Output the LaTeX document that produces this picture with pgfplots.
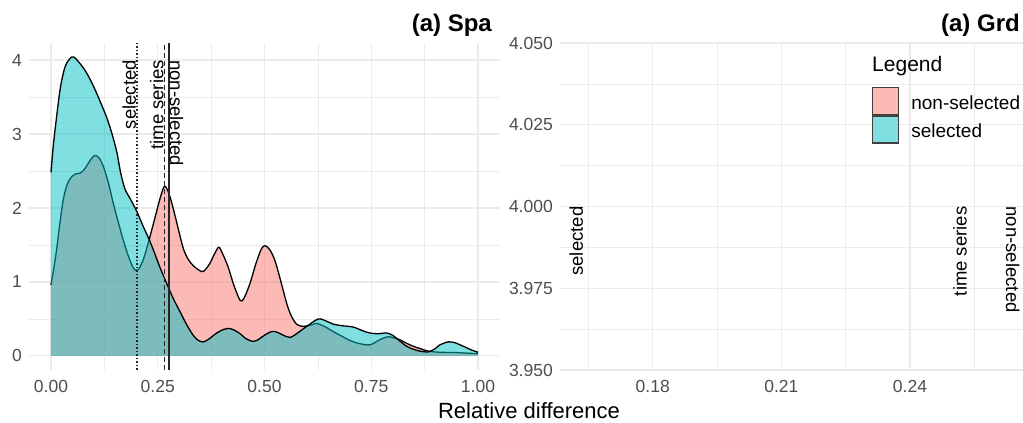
\documentclass[border=0pt]{standalone}
\usepackage{pgfplots}
\pgfplotsset{compat=1.18}
\usepackage{pgfplotstable}
\usepackage{fontspec}
\setmainfont{Liberation Sans}
\definecolor{pinkc}{HTML}{F8766D}
\definecolor{cyanc}{HTML}{00BFC4}
\definecolor{pinkkey}{HTML}{FBBAB6}
\definecolor{cyankey}{HTML}{7FDFE1}
\definecolor{gridc}{HTML}{EBEBEB}
\definecolor{tickc}{HTML}{4D4D4D}

% selected (cyan)
\pgfplotstableread{
x y
0.000 2.48
0.005 2.82
0.010 3.08
0.021 3.59
0.030 3.85
0.037 3.96
0.048 4.04
0.056 4.03
0.064 3.98
0.075 3.90
0.084 3.82
0.095 3.70
0.107 3.55
0.118 3.40
0.130 3.23
0.142 3.02
0.154 2.76
0.163 2.48
0.173 2.26
0.185 2.13
0.197 2.00
0.205 1.90
0.216 1.75
0.228 1.60
0.240 1.43
0.255 1.20
0.271 0.98
0.286 0.78
0.302 0.60
0.318 0.42
0.333 0.28
0.345 0.21
0.357 0.19
0.370 0.23
0.388 0.31
0.405 0.36
0.419 0.37
0.432 0.34
0.443 0.30
0.455 0.24
0.470 0.20
0.482 0.21
0.500 0.28
0.517 0.33
0.530 0.32
0.544 0.28
0.560 0.25
0.575 0.30
0.599 0.40
0.626 0.50
0.645 0.47
0.661 0.43
0.680 0.41
0.708 0.39
0.730 0.34
0.747 0.31
0.765 0.30
0.786 0.31
0.800 0.28
0.815 0.21
0.833 0.13
0.849 0.09
0.864 0.065
0.884 0.055
0.900 0.10
0.911 0.15
0.930 0.19
0.945 0.18
0.966 0.13
0.985 0.08
1.000 0.05
}\selTable

% non-selected (pink)
\pgfplotstableread{
x y
0.000 0.96
0.007 1.20
0.013 1.43
0.021 1.80
0.029 2.12
0.038 2.32
0.048 2.42
0.058 2.46
0.068 2.47
0.078 2.52
0.087 2.60
0.095 2.67
0.103 2.71
0.112 2.68
0.122 2.57
0.134 2.35
0.146 2.06
0.158 1.80
0.169 1.57
0.180 1.37
0.190 1.22
0.197 1.16
0.203 1.16
0.208 1.20
0.216 1.30
0.224 1.45
0.234 1.66
0.244 1.88
0.254 2.10
0.263 2.27
0.268 2.29
0.276 2.20
0.286 2.00
0.298 1.72
0.310 1.45
0.322 1.30
0.335 1.21
0.353 1.14
0.362 1.17
0.372 1.25
0.383 1.38
0.393 1.47
0.402 1.38
0.415 1.20
0.428 0.96
0.443 0.75
0.452 0.78
0.466 0.98
0.480 1.25
0.493 1.45
0.502 1.49
0.513 1.43
0.525 1.28
0.540 0.97
0.552 0.71
0.562 0.55
0.575 0.43
0.590 0.40
0.610 0.42
0.622 0.44
0.640 0.40
0.661 0.33
0.680 0.27
0.700 0.21
0.720 0.17
0.747 0.15
0.770 0.22
0.790 0.26
0.805 0.24
0.817 0.22
0.833 0.17
0.849 0.13
0.864 0.10
0.884 0.065
0.910 0.05
0.950 0.045
1.000 0.03
}\nonTable

\pgfplotsset{panel/.style={
  scale only axis, height=327bp, anchor=south west,
  axis line style={draw=none}, tick style={draw=none},
  grid=both,
  major grid style={draw=gridc, line width=1.1bp},
  minor grid style={draw=gridc, line width=0.7bp},
  ticklabel style={font=\fontsize{17.5bp}{20bp}\selectfont, text=tickc, inner sep=0pt},
  xticklabel style={anchor=north, yshift=-10bp},
  yticklabel style={anchor=east, xshift=-7bp},
  clip=false,
}}

\begin{document}
\begin{tikzpicture}
\path[use as bounding box] (0bp,0bp) rectangle (1023bp,423bp);

\begin{axis}[panel, at={(29bp,53bp)}, width=471bp,
  xmin=-0.0515, xmax=1.0515, ymin=-0.19, ymax=4.23,
  xtick={0,0.25,0.5,0.75,1}, xticklabels={0.00,0.25,0.50,0.75,1.00},
  minor xtick={0.125,0.375,0.625,0.875},
  ytick={0,1,2,3,4}, yticklabels={0,1,2,3,4},
  minor ytick={0.5,1.5,2.5,3.5}]
\addplot[draw=none, fill=pinkc, fill opacity=0.5, smooth] table[x=x,y=y]{\nonTable} \closedcycle;
\addplot[black, line width=1.3bp, smooth] table[x=x,y=y]{\nonTable};
\addplot[draw=none, fill=cyanc, fill opacity=0.5, smooth] table[x=x,y=y]{\selTable} \closedcycle;
\addplot[black, line width=1.3bp, smooth] table[x=x,y=y]{\selTable};
\addplot[black!85, line width=1.2bp, dash pattern=on 1.5bp off 2bp] coordinates {(0.2014,-0.19) (0.2014,4.23)};
\addplot[black!85, line width=1.2bp, dash pattern=on 5bp off 3bp] coordinates {(0.2654,-0.19) (0.2654,4.23)};
\addplot[black!85, line width=1.2bp] coordinates {(0.2763,-0.19) (0.2763,4.23)};
\node[rotate=90, anchor=base east, inner sep=0pt, font=\fontsize{18.5bp}{20bp}\selectfont] at (axis cs:0.1990,4) {selected};
\node[rotate=90, anchor=base east, inner sep=0pt, font=\fontsize{18.5bp}{20bp}\selectfont] at (axis cs:0.2630,4) {time series};
\node[rotate=-90, anchor=base west, inner sep=0pt, font=\fontsize{18.5bp}{20bp}\selectfont] at (axis cs:0.2785,4) {non-selected};
\end{axis}

\begin{axis}[panel, at={(560bp,53bp)}, width=463bp,
  xmin=0.15838, xmax=0.26635, ymin=3.95, ymax=4.05,
  xtick={0.18,0.21,0.24}, xticklabels={0.18,0.21,0.24},
  minor xtick={0.165,0.195,0.225,0.255},
  ytick={3.95,3.975,4,4.025,4.05}, yticklabels={3.950,3.975,4.000,4.025,4.050},
  minor ytick={3.9625,3.9875,4.0125,4.0375},
  legend style={at={(0.6739,0.8654)}, anchor=north west, draw=none, fill=none,
    inner sep=0pt, outer sep=0pt, row sep=0pt, column sep=12bp,
    font=\fontsize{19bp}{22bp}\selectfont,
    nodes={inner sep=0pt, anchor=base west}}]
\addlegendimage{legend image code/.code={\draw[line width=1.3bp, draw=black!75, fill=pinkkey] (0bp,-5bp) rectangle (26bp,22bp);}}
\addlegendentry{non-selected}
\addlegendimage{legend image code/.code={\draw[line width=1.3bp, draw=black!75, fill=cyankey] (0bp,-5bp) rectangle (26bp,22bp);}}
\addlegendentry{selected}
\node[rotate=90, anchor=base east, inner sep=0pt, font=\fontsize{18.5bp}{20bp}\selectfont] at (axis cs:0.1637,4) {selected};
\node[rotate=90, anchor=base east, inner sep=0pt, font=\fontsize{18.5bp}{20bp}\selectfont] at (axis cs:0.2532,4) {time series};
\node[rotate=-90, anchor=base west, inner sep=0pt, font=\fontsize{18.5bp}{20bp}\selectfont] at (axis cs:0.2624,4) {non-selected};
\node[anchor=base west, inner sep=0pt, font=\fontsize{21bp}{24bp}\selectfont] at (axis description cs:0.6739,0.9122) {Legend};
\end{axis}

\node[anchor=base east, inner sep=0pt, font=\bfseries\fontsize{24bp}{28bp}\selectfont] at (492bp,391bp) {(a) Spa};
\node[anchor=base east, inner sep=0pt, font=\bfseries\fontsize{24bp}{28bp}\selectfont] at (1020bp,391bp) {(a) Grd};
\node[anchor=base, inner sep=0pt, font=\fontsize{22bp}{26bp}\selectfont] at (529bp,5bp) {Relative difference};
\end{tikzpicture}
\end{document}
